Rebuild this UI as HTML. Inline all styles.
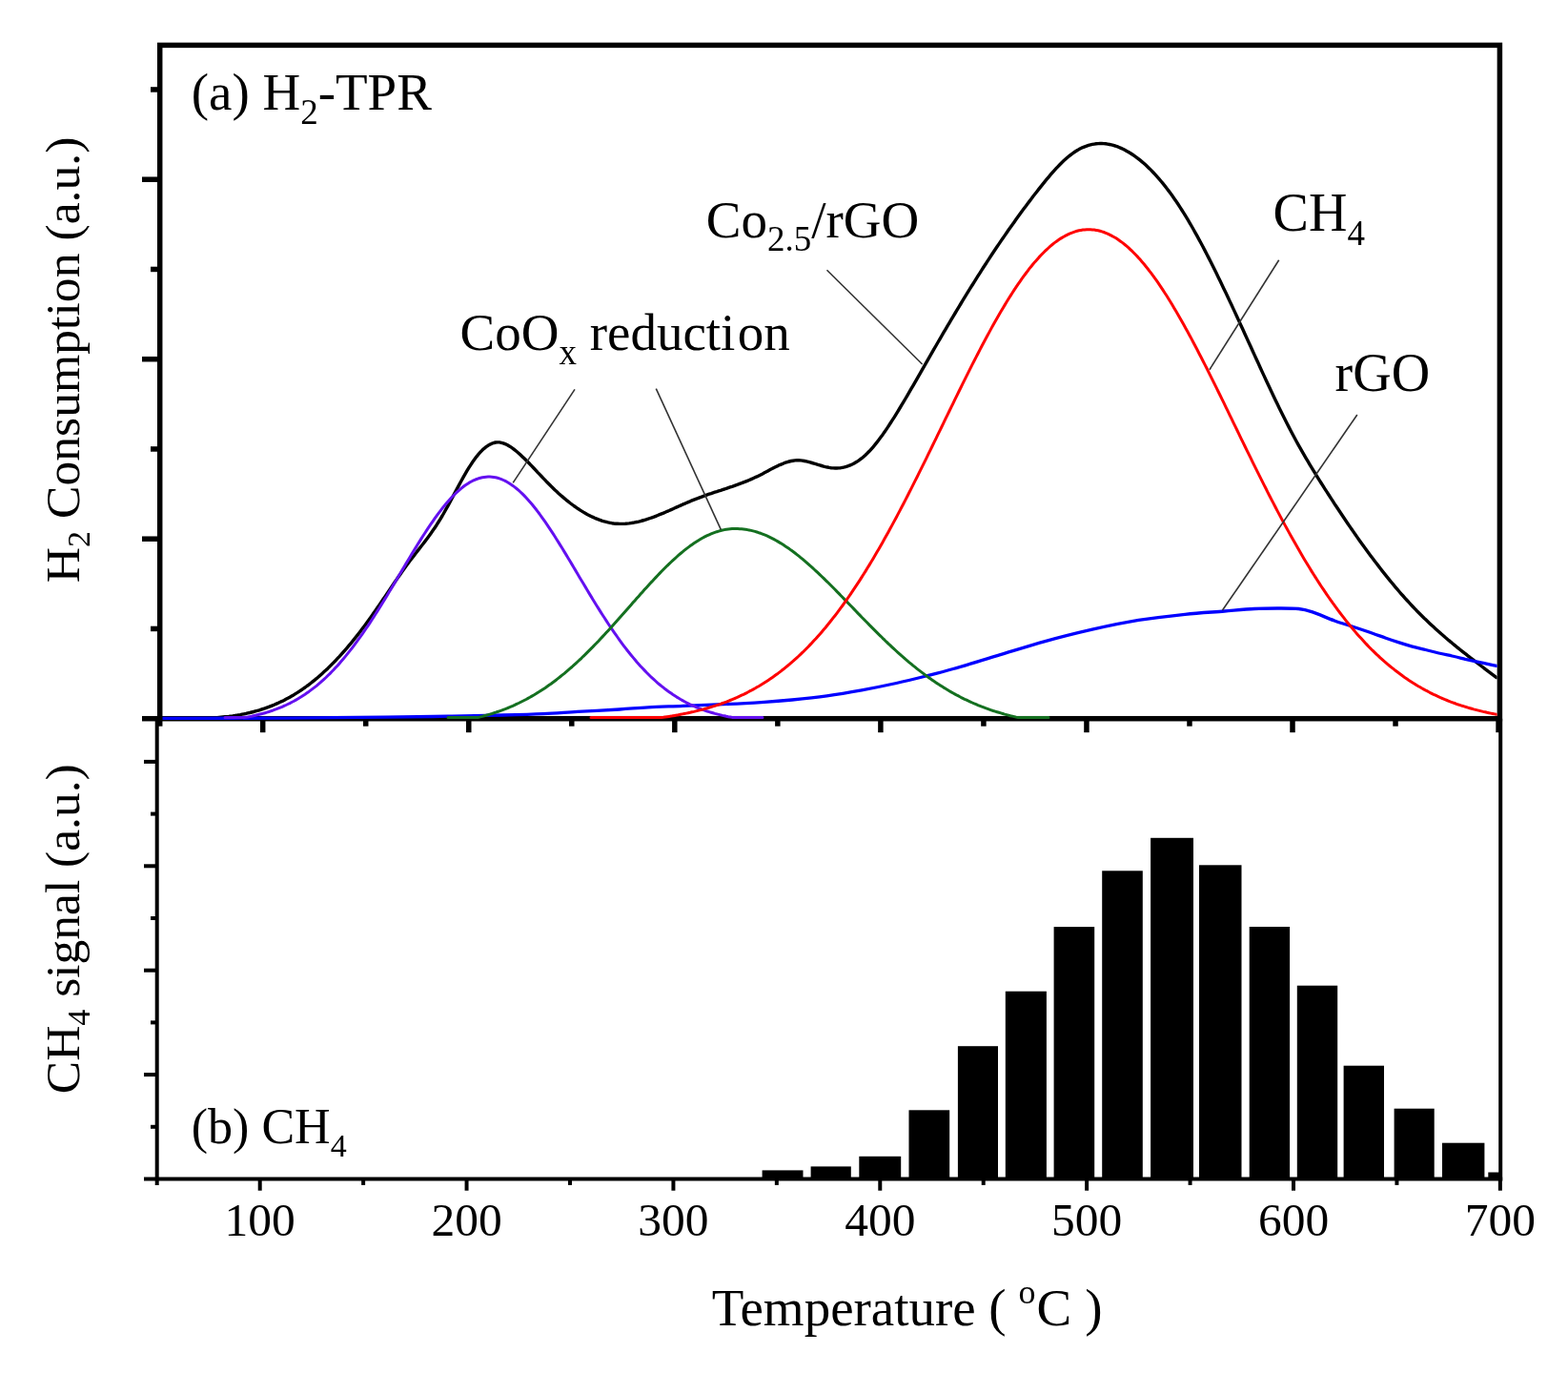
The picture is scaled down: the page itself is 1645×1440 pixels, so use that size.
<!DOCTYPE html>
<html><head><meta charset="utf-8"><title>H2-TPR</title>
<style>html,body{margin:0;padding:0;background:#fff;width:1645px;height:1440px;overflow:hidden}svg{display:block}</style>
</head><body>
<svg width="1645" height="1440" viewBox="0 0 1645 1440">
<rect width="100%" height="100%" fill="#fff"/>
<rect x="799.6" y="1227.4" width="42.9" height="9.1" fill="#000"/>
<rect x="850.6" y="1223.4" width="42.2" height="13.1" fill="#000"/>
<rect x="901.3" y="1212.8" width="43.9" height="23.7" fill="#000"/>
<rect x="953.5" y="1164.3" width="42.7" height="72.2" fill="#000"/>
<rect x="1004.9" y="1097.2" width="42.1" height="139.3" fill="#000"/>
<rect x="1054.8" y="1039.7" width="43.1" height="196.8" fill="#000"/>
<rect x="1105.6" y="972.1" width="42.6" height="264.4" fill="#000"/>
<rect x="1156.2" y="913.3" width="42.6" height="323.2" fill="#000"/>
<rect x="1207.1" y="878.8" width="44.9" height="357.7" fill="#000"/>
<rect x="1258.0" y="907.3" width="44.5" height="329.2" fill="#000"/>
<rect x="1310.7" y="972.0" width="42.4" height="264.5" fill="#000"/>
<rect x="1360.8" y="1033.7" width="42.4" height="202.8" fill="#000"/>
<rect x="1409.6" y="1117.7" width="42.4" height="118.8" fill="#000"/>
<rect x="1462.6" y="1162.7" width="42.1" height="73.8" fill="#000"/>
<rect x="1513.0" y="1198.7" width="44.4" height="37.8" fill="#000"/>
<rect x="1561.3" y="1229.5" width="12.7" height="7.0" fill="#000"/>
<line x1="164.70" y1="753.70" x2="164.70" y2="1242.90" stroke="#000" stroke-width="4.0" stroke-linecap="butt"/>
<line x1="1574.20" y1="753.70" x2="1574.20" y2="1238.50" stroke="#000" stroke-width="4.0" stroke-linecap="butt"/>
<line x1="151.00" y1="1236.50" x2="1576.20" y2="1236.50" stroke="#000" stroke-width="4.0" stroke-linecap="butt"/>
<line x1="158.00" y1="1181.80" x2="164.70" y2="1181.80" stroke="#000" stroke-width="4.0" stroke-linecap="butt"/>
<line x1="151.00" y1="1127.10" x2="164.70" y2="1127.10" stroke="#000" stroke-width="4.0" stroke-linecap="butt"/>
<line x1="158.00" y1="1072.40" x2="164.70" y2="1072.40" stroke="#000" stroke-width="4.0" stroke-linecap="butt"/>
<line x1="151.00" y1="1017.70" x2="164.70" y2="1017.70" stroke="#000" stroke-width="4.0" stroke-linecap="butt"/>
<line x1="158.00" y1="963.00" x2="164.70" y2="963.00" stroke="#000" stroke-width="4.0" stroke-linecap="butt"/>
<line x1="151.00" y1="908.30" x2="164.70" y2="908.30" stroke="#000" stroke-width="4.0" stroke-linecap="butt"/>
<line x1="158.00" y1="853.60" x2="164.70" y2="853.60" stroke="#000" stroke-width="4.0" stroke-linecap="butt"/>
<line x1="151.00" y1="798.90" x2="164.70" y2="798.90" stroke="#000" stroke-width="4.0" stroke-linecap="butt"/>
<line x1="272.70" y1="1236.50" x2="272.70" y2="1248.70" stroke="#000" stroke-width="4.0" stroke-linecap="butt"/>
<line x1="381.13" y1="1236.50" x2="381.13" y2="1242.90" stroke="#000" stroke-width="4.0" stroke-linecap="butt"/>
<line x1="489.56" y1="1236.50" x2="489.56" y2="1248.70" stroke="#000" stroke-width="4.0" stroke-linecap="butt"/>
<line x1="597.99" y1="1236.50" x2="597.99" y2="1242.90" stroke="#000" stroke-width="4.0" stroke-linecap="butt"/>
<line x1="706.42" y1="1236.50" x2="706.42" y2="1248.70" stroke="#000" stroke-width="4.0" stroke-linecap="butt"/>
<line x1="814.85" y1="1236.50" x2="814.85" y2="1242.90" stroke="#000" stroke-width="4.0" stroke-linecap="butt"/>
<line x1="923.28" y1="1236.50" x2="923.28" y2="1248.70" stroke="#000" stroke-width="4.0" stroke-linecap="butt"/>
<line x1="1031.71" y1="1236.50" x2="1031.71" y2="1242.90" stroke="#000" stroke-width="4.0" stroke-linecap="butt"/>
<line x1="1140.14" y1="1236.50" x2="1140.14" y2="1248.70" stroke="#000" stroke-width="4.0" stroke-linecap="butt"/>
<line x1="1248.57" y1="1236.50" x2="1248.57" y2="1242.90" stroke="#000" stroke-width="4.0" stroke-linecap="butt"/>
<line x1="1357.00" y1="1236.50" x2="1357.00" y2="1248.70" stroke="#000" stroke-width="4.0" stroke-linecap="butt"/>
<line x1="1465.43" y1="1236.50" x2="1465.43" y2="1242.90" stroke="#000" stroke-width="4.0" stroke-linecap="butt"/>
<line x1="1573.86" y1="1236.50" x2="1573.86" y2="1248.70" stroke="#000" stroke-width="4.0" stroke-linecap="butt"/>
<rect x="167.70" y="47.40" width="1405.70" height="706.30" fill="none" stroke="#000" stroke-width="5.5"/>
<line x1="149.00" y1="753.70" x2="167.70" y2="753.70" stroke="#000" stroke-width="5.5" stroke-linecap="butt"/>
<line x1="158.00" y1="659.45" x2="167.70" y2="659.45" stroke="#000" stroke-width="5.5" stroke-linecap="butt"/>
<line x1="149.00" y1="565.20" x2="167.70" y2="565.20" stroke="#000" stroke-width="5.5" stroke-linecap="butt"/>
<line x1="158.00" y1="470.95" x2="167.70" y2="470.95" stroke="#000" stroke-width="5.5" stroke-linecap="butt"/>
<line x1="149.00" y1="376.70" x2="167.70" y2="376.70" stroke="#000" stroke-width="5.5" stroke-linecap="butt"/>
<line x1="158.00" y1="282.45" x2="167.70" y2="282.45" stroke="#000" stroke-width="5.5" stroke-linecap="butt"/>
<line x1="149.00" y1="188.20" x2="167.70" y2="188.20" stroke="#000" stroke-width="5.5" stroke-linecap="butt"/>
<line x1="158.00" y1="93.95" x2="167.70" y2="93.95" stroke="#000" stroke-width="5.5" stroke-linecap="butt"/>
<line x1="275.70" y1="753.70" x2="275.70" y2="768.20" stroke="#000" stroke-width="5.5" stroke-linecap="butt"/>
<line x1="383.73" y1="753.70" x2="383.73" y2="761.70" stroke="#000" stroke-width="5.5" stroke-linecap="butt"/>
<line x1="491.76" y1="753.70" x2="491.76" y2="768.20" stroke="#000" stroke-width="5.5" stroke-linecap="butt"/>
<line x1="599.79" y1="753.70" x2="599.79" y2="761.70" stroke="#000" stroke-width="5.5" stroke-linecap="butt"/>
<line x1="707.82" y1="753.70" x2="707.82" y2="768.20" stroke="#000" stroke-width="5.5" stroke-linecap="butt"/>
<line x1="815.85" y1="753.70" x2="815.85" y2="761.70" stroke="#000" stroke-width="5.5" stroke-linecap="butt"/>
<line x1="923.88" y1="753.70" x2="923.88" y2="768.20" stroke="#000" stroke-width="5.5" stroke-linecap="butt"/>
<line x1="1031.91" y1="753.70" x2="1031.91" y2="761.70" stroke="#000" stroke-width="5.5" stroke-linecap="butt"/>
<line x1="1139.94" y1="753.70" x2="1139.94" y2="768.20" stroke="#000" stroke-width="5.5" stroke-linecap="butt"/>
<line x1="1247.97" y1="753.70" x2="1247.97" y2="761.70" stroke="#000" stroke-width="5.5" stroke-linecap="butt"/>
<line x1="1356.00" y1="753.70" x2="1356.00" y2="768.20" stroke="#000" stroke-width="5.5" stroke-linecap="butt"/>
<line x1="1464.03" y1="753.70" x2="1464.03" y2="761.70" stroke="#000" stroke-width="5.5" stroke-linecap="butt"/>
<line x1="1572.06" y1="753.70" x2="1572.06" y2="768.20" stroke="#000" stroke-width="5.5" stroke-linecap="butt"/>
<line x1="167.70" y1="753.70" x2="167.70" y2="761.70" stroke="#000" stroke-width="5.5" stroke-linecap="butt"/>
<defs><clipPath id="cp"><rect x="170.5" y="0" width="1400.1" height="760"/></clipPath></defs>
<g clip-path="url(#cp)" fill="none" stroke-linejoin="round" stroke-linecap="round">
<path d="M168.0,753.1 L170.0,753.1 L172.0,753.1 L174.0,753.2 L176.0,753.2 L178.0,753.2 L180.0,753.3 L182.0,753.3 L184.0,753.3 L186.0,753.4 L188.0,753.4 L190.0,753.4 L192.0,753.4 L194.0,753.4 L196.0,753.5 L198.0,753.5 L200.0,753.5 L202.0,753.5 L204.0,753.5 L206.0,753.4 L208.0,753.4 L210.0,753.4 L212.0,753.3 L214.0,753.3 L216.0,753.2 L218.0,753.1 L220.0,753.0 L222.0,752.9 L224.0,752.8 L226.0,752.7 L228.0,752.6 L230.0,752.4 L232.0,752.2 L234.0,752.0 L236.0,751.8 L238.0,751.6 L240.0,751.4 L242.0,751.1 L244.0,750.9 L246.0,750.6 L248.0,750.3 L250.0,749.9 L252.0,749.6 L254.0,749.2 L256.0,748.8 L258.0,748.4 L260.0,747.9 L262.0,747.5 L264.0,747.0 L266.0,746.5 L268.0,745.9 L270.0,745.4 L272.0,744.8 L274.0,744.1 L276.0,743.5 L278.0,742.8 L280.0,742.1 L282.0,741.4 L284.0,740.6 L286.0,739.8 L288.0,739.0 L290.0,738.1 L292.0,737.2 L294.0,736.3 L296.0,735.4 L298.0,734.4 L300.0,733.3 L302.0,732.3 L304.0,731.2 L306.0,730.0 L308.0,728.9 L310.0,727.6 L312.0,726.4 L314.0,725.1 L316.0,723.8 L318.0,722.4 L320.0,721.0 L322.0,719.5 L324.0,718.1 L326.0,716.5 L328.0,714.9 L330.0,713.3 L332.0,711.7 L334.0,710.0 L336.0,708.2 L338.0,706.4 L340.0,704.6 L342.0,702.8 L344.0,700.9 L346.0,698.9 L348.0,696.9 L350.0,694.9 L352.0,692.8 L354.0,690.7 L356.0,688.6 L358.0,686.4 L360.0,684.1 L362.0,681.9 L364.0,679.6 L366.0,677.2 L368.0,674.8 L370.0,672.4 L372.0,669.9 L374.0,667.4 L376.0,664.9 L378.0,662.3 L380.0,659.6 L382.0,657.0 L384.0,654.3 L386.0,651.5 L388.0,648.7 L390.0,645.9 L392.0,643.1 L394.0,640.2 L396.0,637.3 L398.0,634.4 L400.0,631.5 L402.0,628.5 L404.0,625.6 L406.0,622.6 L408.0,619.7 L410.0,616.7 L412.0,613.8 L414.0,610.8 L416.0,607.9 L418.0,605.0 L420.0,602.2 L422.0,599.3 L424.0,596.5 L426.0,593.8 L428.0,591.0 L430.0,588.3 L432.0,585.7 L434.0,583.1 L436.0,580.5 L438.0,577.9 L440.0,575.4 L442.0,572.8 L444.0,570.2 L446.0,567.6 L448.0,564.9 L450.0,562.2 L452.0,559.4 L454.0,556.6 L456.0,553.7 L458.0,550.7 L460.0,547.5 L462.0,544.3 L464.0,541.0 L466.0,537.5 L468.0,533.9 L470.0,530.3 L472.0,526.6 L474.0,522.9 L476.0,519.1 L478.0,515.3 L480.0,511.6 L482.0,507.9 L484.0,504.2 L486.0,500.6 L488.0,497.1 L490.0,493.7 L492.0,490.4 L494.0,487.3 L496.0,484.3 L498.0,481.5 L500.0,478.8 L502.0,476.4 L504.0,474.2 L506.0,472.1 L508.0,470.3 L510.0,468.7 L512.0,467.3 L514.0,466.1 L516.0,465.2 L518.0,464.5 L520.0,464.0 L522.0,463.9 L524.0,463.9 L526.0,464.3 L528.0,464.8 L530.0,465.6 L532.0,466.5 L534.0,467.7 L536.0,468.9 L538.0,470.3 L540.0,471.9 L542.0,473.5 L544.0,475.2 L546.0,477.0 L548.0,478.9 L550.0,480.8 L552.0,482.8 L554.0,484.8 L556.0,486.8 L558.0,488.9 L560.0,491.0 L562.0,493.1 L564.0,495.3 L566.0,497.4 L568.0,499.5 L570.0,501.6 L572.0,503.7 L574.0,505.8 L576.0,507.8 L578.0,509.8 L580.0,511.7 L582.0,513.7 L584.0,515.5 L586.0,517.4 L588.0,519.2 L590.0,520.9 L592.0,522.6 L594.0,524.3 L596.0,525.9 L598.0,527.5 L600.0,529.0 L602.0,530.5 L604.0,531.9 L606.0,533.3 L608.0,534.6 L610.0,535.9 L612.0,537.1 L614.0,538.3 L616.0,539.4 L618.0,540.4 L620.0,541.5 L622.0,542.4 L624.0,543.3 L626.0,544.1 L628.0,544.9 L630.0,545.6 L632.0,546.3 L634.0,546.9 L636.0,547.4 L638.0,547.9 L640.0,548.3 L642.0,548.7 L644.0,549.0 L646.0,549.2 L648.0,549.3 L650.0,549.4 L652.0,549.4 L654.0,549.4 L656.0,549.3 L658.0,549.1 L660.0,548.9 L662.0,548.6 L664.0,548.3 L666.0,547.9 L668.0,547.5 L670.0,547.1 L672.0,546.6 L674.0,546.0 L676.0,545.5 L678.0,544.8 L680.0,544.2 L682.0,543.5 L684.0,542.8 L686.0,542.1 L688.0,541.3 L690.0,540.5 L692.0,539.7 L694.0,538.9 L696.0,538.1 L698.0,537.2 L700.0,536.3 L702.0,535.5 L704.0,534.6 L706.0,533.7 L708.0,532.8 L710.0,531.9 L712.0,531.0 L714.0,530.1 L716.0,529.2 L718.0,528.4 L720.0,527.5 L722.0,526.6 L724.0,525.8 L726.0,524.9 L728.0,524.1 L730.0,523.3 L732.0,522.6 L734.0,521.8 L736.0,521.1 L738.0,520.3 L740.0,519.6 L742.0,518.9 L744.0,518.2 L746.0,517.6 L748.0,516.9 L750.0,516.2 L752.0,515.6 L754.0,514.9 L756.0,514.3 L758.0,513.6 L760.0,513.0 L762.0,512.3 L764.0,511.6 L766.0,510.9 L768.0,510.3 L770.0,509.6 L772.0,508.9 L774.0,508.2 L776.0,507.4 L778.0,506.7 L780.0,505.9 L782.0,505.1 L784.0,504.3 L786.0,503.5 L788.0,502.6 L790.0,501.7 L792.0,500.8 L794.0,499.9 L796.0,498.9 L798.0,497.9 L800.0,496.9 L802.0,495.8 L804.0,494.8 L806.0,493.7 L808.0,492.6 L810.0,491.6 L812.0,490.5 L814.0,489.5 L816.0,488.6 L818.0,487.6 L820.0,486.8 L822.0,486.0 L824.0,485.2 L826.0,484.6 L828.0,484.0 L830.0,483.5 L832.0,483.2 L834.0,482.9 L836.0,482.8 L838.0,482.8 L840.0,482.9 L842.0,483.1 L844.0,483.5 L846.0,483.9 L848.0,484.3 L850.0,484.9 L852.0,485.5 L854.0,486.1 L856.0,486.7 L858.0,487.3 L860.0,487.9 L862.0,488.5 L864.0,489.1 L866.0,489.6 L868.0,490.0 L870.0,490.4 L872.0,490.7 L874.0,490.9 L876.0,491.0 L878.0,491.0 L880.0,490.9 L882.0,490.7 L884.0,490.3 L886.0,489.9 L888.0,489.3 L890.0,488.7 L892.0,487.9 L894.0,487.0 L896.0,486.0 L898.0,484.8 L900.0,483.6 L902.0,482.2 L904.0,480.7 L906.0,479.0 L908.0,477.2 L910.0,475.3 L912.0,473.3 L914.0,471.1 L916.0,468.8 L918.0,466.4 L920.0,463.9 L922.0,461.3 L924.0,458.6 L926.0,455.9 L928.0,453.0 L930.0,450.1 L932.0,447.1 L934.0,444.0 L936.0,440.9 L938.0,437.8 L940.0,434.6 L942.0,431.3 L944.0,428.0 L946.0,424.7 L948.0,421.4 L950.0,418.0 L952.0,414.6 L954.0,411.2 L956.0,407.7 L958.0,404.3 L960.0,400.8 L962.0,397.3 L964.0,393.8 L966.0,390.3 L968.0,386.8 L970.0,383.3 L972.0,379.8 L974.0,376.3 L976.0,372.9 L978.0,369.4 L980.0,365.9 L982.0,362.5 L984.0,359.0 L986.0,355.6 L988.0,352.2 L990.0,348.7 L992.0,345.3 L994.0,341.9 L996.0,338.6 L998.0,335.2 L1000.0,331.8 L1002.0,328.5 L1004.0,325.1 L1006.0,321.8 L1008.0,318.5 L1010.0,315.2 L1012.0,311.9 L1014.0,308.7 L1016.0,305.4 L1018.0,302.2 L1020.0,299.0 L1022.0,295.8 L1024.0,292.6 L1026.0,289.4 L1028.0,286.3 L1030.0,283.2 L1032.0,280.0 L1034.0,277.0 L1036.0,273.9 L1038.0,270.8 L1040.0,267.8 L1042.0,264.8 L1044.0,261.8 L1046.0,258.8 L1048.0,255.9 L1050.0,252.9 L1052.0,250.0 L1054.0,247.1 L1056.0,244.2 L1058.0,241.3 L1060.0,238.5 L1062.0,235.7 L1064.0,232.9 L1066.0,230.1 L1068.0,227.3 L1070.0,224.5 L1072.0,221.8 L1074.0,219.1 L1076.0,216.4 L1078.0,213.7 L1080.0,211.1 L1082.0,208.5 L1084.0,205.8 L1086.0,203.3 L1088.0,200.7 L1090.0,198.1 L1092.0,195.6 L1094.0,193.1 L1096.0,190.6 L1098.0,188.2 L1100.0,185.8 L1102.0,183.4 L1104.0,181.1 L1106.0,178.9 L1108.0,176.7 L1110.0,174.6 L1112.0,172.5 L1114.0,170.5 L1116.0,168.6 L1118.0,166.8 L1120.0,165.0 L1122.0,163.4 L1124.0,161.8 L1126.0,160.4 L1128.0,159.0 L1130.0,157.8 L1132.0,156.6 L1134.0,155.6 L1136.0,154.6 L1138.0,153.8 L1140.0,153.1 L1142.0,152.4 L1144.0,151.9 L1146.0,151.4 L1148.0,151.1 L1150.0,150.8 L1152.0,150.6 L1154.0,150.5 L1156.0,150.5 L1158.0,150.6 L1160.0,150.8 L1162.0,151.1 L1164.0,151.5 L1166.0,151.9 L1168.0,152.4 L1170.0,153.0 L1172.0,153.7 L1174.0,154.5 L1176.0,155.4 L1178.0,156.3 L1180.0,157.3 L1182.0,158.4 L1184.0,159.5 L1186.0,160.7 L1188.0,162.0 L1190.0,163.4 L1192.0,164.8 L1194.0,166.3 L1196.0,167.9 L1198.0,169.6 L1200.0,171.3 L1202.0,173.1 L1204.0,175.0 L1206.0,176.9 L1208.0,178.9 L1210.0,181.0 L1212.0,183.1 L1214.0,185.3 L1216.0,187.6 L1218.0,190.0 L1220.0,192.4 L1222.0,194.9 L1224.0,197.5 L1226.0,200.1 L1228.0,202.8 L1230.0,205.6 L1232.0,208.4 L1234.0,211.3 L1236.0,214.3 L1238.0,217.4 L1240.0,220.5 L1242.0,223.6 L1244.0,226.9 L1246.0,230.2 L1248.0,233.6 L1250.0,237.0 L1252.0,240.5 L1254.0,244.1 L1256.0,247.7 L1258.0,251.3 L1260.0,255.0 L1262.0,258.8 L1264.0,262.6 L1266.0,266.5 L1268.0,270.4 L1270.0,274.3 L1272.0,278.3 L1274.0,282.3 L1276.0,286.3 L1278.0,290.4 L1280.0,294.6 L1282.0,298.7 L1284.0,302.9 L1286.0,307.1 L1288.0,311.3 L1290.0,315.6 L1292.0,319.8 L1294.0,324.1 L1296.0,328.4 L1298.0,332.8 L1300.0,337.1 L1302.0,341.5 L1304.0,345.8 L1306.0,350.2 L1308.0,354.6 L1310.0,359.0 L1312.0,363.3 L1314.0,367.7 L1316.0,372.1 L1318.0,376.5 L1320.0,380.8 L1322.0,385.2 L1324.0,389.6 L1326.0,393.9 L1328.0,398.2 L1330.0,402.5 L1332.0,406.8 L1334.0,411.0 L1336.0,415.2 L1338.0,419.4 L1340.0,423.6 L1342.0,427.7 L1344.0,431.8 L1346.0,435.8 L1348.0,439.8 L1350.0,443.8 L1352.0,447.6 L1354.0,451.5 L1356.0,455.3 L1358.0,459.0 L1360.0,462.7 L1362.0,466.3 L1364.0,469.9 L1366.0,473.4 L1368.0,476.9 L1370.0,480.3 L1372.0,483.7 L1374.0,487.1 L1376.0,490.4 L1378.0,493.7 L1380.0,496.9 L1382.0,500.2 L1384.0,503.4 L1386.0,506.5 L1388.0,509.7 L1390.0,512.8 L1392.0,515.9 L1394.0,519.0 L1396.0,522.1 L1398.0,525.2 L1400.0,528.3 L1402.0,531.3 L1404.0,534.3 L1406.0,537.3 L1408.0,540.3 L1410.0,543.3 L1412.0,546.2 L1414.0,549.2 L1416.0,552.1 L1418.0,555.0 L1420.0,557.9 L1422.0,560.7 L1424.0,563.6 L1426.0,566.4 L1428.0,569.2 L1430.0,572.0 L1432.0,574.7 L1434.0,577.5 L1436.0,580.2 L1438.0,582.9 L1440.0,585.5 L1442.0,588.2 L1444.0,590.8 L1446.0,593.4 L1448.0,596.0 L1450.0,598.6 L1452.0,601.1 L1454.0,603.6 L1456.0,606.1 L1458.0,608.6 L1460.0,611.0 L1462.0,613.4 L1464.0,615.8 L1466.0,618.1 L1468.0,620.5 L1470.0,622.8 L1472.0,625.0 L1474.0,627.3 L1476.0,629.5 L1478.0,631.7 L1480.0,633.8 L1482.0,636.0 L1484.0,638.1 L1486.0,640.2 L1488.0,642.2 L1490.0,644.2 L1492.0,646.2 L1494.0,648.2 L1496.0,650.1 L1498.0,652.0 L1500.0,653.9 L1502.0,655.8 L1504.0,657.6 L1506.0,659.4 L1508.0,661.2 L1510.0,663.0 L1512.0,664.8 L1514.0,666.5 L1516.0,668.3 L1518.0,670.0 L1520.0,671.7 L1522.0,673.3 L1524.0,675.0 L1526.0,676.6 L1528.0,678.3 L1530.0,679.9 L1532.0,681.5 L1534.0,683.1 L1536.0,684.7 L1538.0,686.2 L1540.0,687.8 L1542.0,689.4 L1544.0,690.9 L1546.0,692.4 L1548.0,694.0 L1550.0,695.5 L1552.0,697.0 L1554.0,698.5 L1556.0,700.0 L1558.0,701.6 L1560.0,703.1 L1562.0,704.6 L1564.0,706.1 L1566.0,707.6 L1568.0,709.1 L1570.0,710.6" stroke="#000" stroke-width="3.4"/>
<path d="M168.0,753.3 C190.0,753.3 260.5,753.3 300.0,753.1 C339.5,752.9 376.7,752.5 405.0,752.2 C433.3,751.9 449.5,751.6 470.0,751.2 C490.5,750.8 511.3,750.4 528.0,750.0 C544.7,749.6 557.0,749.3 570.0,748.7 C583.0,748.1 592.7,747.2 606.0,746.4 C619.3,745.6 637.7,744.8 650.0,744.0 C662.3,743.2 668.9,742.4 680.0,741.8 C691.1,741.2 702.5,740.9 716.7,740.3 C730.9,739.7 751.1,739.0 765.3,738.4 C779.5,737.8 790.8,737.1 801.8,736.4 C812.8,735.7 820.0,735.1 831.0,734.0 C842.0,732.9 855.3,731.5 867.5,729.8 C879.7,728.1 891.9,726.0 904.0,723.8 C916.1,721.6 929.5,718.9 940.4,716.5 C951.3,714.1 959.7,712.0 969.6,709.5 C979.5,707.0 986.8,705.3 1000.0,701.5 C1013.2,697.7 1032.4,691.8 1048.6,686.9 C1064.8,682.0 1081.1,676.8 1097.3,672.3 C1113.5,667.8 1129.7,663.8 1145.9,660.1 C1162.1,656.5 1178.3,653.0 1194.5,650.4 C1210.7,647.8 1228.2,645.9 1243.2,644.3 C1258.2,642.7 1272.4,642.0 1284.5,641.0 C1296.6,640.0 1306.8,639.0 1316.0,638.5 C1325.2,638.0 1332.3,638.0 1340.0,638.0 C1347.7,638.0 1356.1,637.9 1362.3,638.5 C1368.5,639.1 1370.6,639.8 1376.9,641.9 C1383.2,644.0 1392.8,648.4 1400.0,651.0 C1407.2,653.6 1413.3,655.3 1420.0,657.5 C1426.7,659.7 1434.3,662.2 1440.0,664.2 C1445.7,666.2 1449.3,667.6 1453.9,669.2 C1458.5,670.8 1463.2,672.4 1467.8,673.9 C1472.4,675.4 1477.1,676.8 1481.7,678.1 C1486.3,679.4 1491.0,680.4 1495.6,681.5 C1500.2,682.6 1504.8,683.9 1509.4,685.0 C1514.0,686.1 1518.7,687.0 1523.3,688.0 C1527.9,689.0 1532.6,690.2 1537.2,691.3 C1541.8,692.3 1546.5,693.3 1551.1,694.3 C1555.7,695.3 1561.7,696.6 1565.0,697.3 C1568.3,698.0 1570.0,698.3 1571.0,698.5" stroke="#0000ff" stroke-width="3.3"/>
<path d="M236.0,752.6 L238.0,752.6 L240.0,752.6 L242.0,752.6 L244.0,752.6 L246.0,752.6 L248.0,752.6 L250.0,752.6 L252.0,752.6 L254.0,752.6 L256.0,752.6 L258.0,752.3 L260.0,752.0 L262.0,751.6 L264.0,751.2 L266.0,750.7 L268.0,750.3 L270.0,749.8 L272.0,749.3 L274.0,748.8 L276.0,748.3 L278.0,747.7 L280.0,747.1 L282.0,746.5 L284.0,745.8 L286.0,745.2 L288.0,744.4 L290.0,743.7 L292.0,742.9 L294.0,742.1 L296.0,741.3 L298.0,740.4 L300.0,739.5 L302.0,738.5 L304.0,737.6 L306.0,736.5 L308.0,735.5 L310.0,734.4 L312.0,733.2 L314.0,732.0 L316.0,730.8 L318.0,729.5 L320.0,728.2 L322.0,726.8 L324.0,725.4 L326.0,723.9 L328.0,722.4 L330.0,720.9 L332.0,719.3 L334.0,717.6 L336.0,715.9 L338.0,714.1 L340.0,712.3 L342.0,710.5 L344.0,708.5 L346.0,706.6 L348.0,704.5 L350.0,702.5 L352.0,700.3 L354.0,698.2 L356.0,695.9 L358.0,693.6 L360.0,691.3 L362.0,688.9 L364.0,686.4 L366.0,683.9 L368.0,681.4 L370.0,678.8 L372.0,676.1 L374.0,673.4 L376.0,670.7 L378.0,667.9 L380.0,665.1 L382.0,662.2 L384.0,659.2 L386.0,656.3 L388.0,653.3 L390.0,650.2 L392.0,647.1 L394.0,644.0 L396.0,640.9 L398.0,637.7 L400.0,634.4 L402.0,631.2 L404.0,627.9 L406.0,624.7 L408.0,621.3 L410.0,618.0 L412.0,614.7 L414.0,611.3 L416.0,608.0 L418.0,604.6 L420.0,601.2 L422.0,597.9 L424.0,594.5 L426.0,591.1 L428.0,587.8 L430.0,584.5 L432.0,581.1 L434.0,577.9 L436.0,574.6 L438.0,571.3 L440.0,568.1 L442.0,564.9 L444.0,561.8 L446.0,558.7 L448.0,555.6 L450.0,552.6 L452.0,549.7 L454.0,546.8 L456.0,543.9 L458.0,541.1 L460.0,538.4 L462.0,535.8 L464.0,533.2 L466.0,530.7 L468.0,528.3 L470.0,526.0 L472.0,523.7 L474.0,521.5 L476.0,519.5 L478.0,517.5 L480.0,515.6 L482.0,513.8 L484.0,512.1 L486.0,510.5 L488.0,509.0 L490.0,507.7 L492.0,506.4 L494.0,505.3 L496.0,504.2 L498.0,503.3 L500.0,502.5 L502.0,501.8 L504.0,501.2 L506.0,500.7 L508.0,500.4 L510.0,500.2 L512.0,500.1 L514.0,500.1 L516.0,500.2 L518.0,500.5 L520.0,500.8 L522.0,501.3 L524.0,501.9 L526.0,502.6 L528.0,503.5 L530.0,504.4 L532.0,505.5 L534.0,506.7 L536.0,508.0 L538.0,509.4 L540.0,510.9 L542.0,512.5 L544.0,514.2 L546.0,516.0 L548.0,517.9 L550.0,519.9 L552.0,522.0 L554.0,524.2 L556.0,526.5 L558.0,528.8 L560.0,531.3 L562.0,533.8 L564.0,536.4 L566.0,539.0 L568.0,541.8 L570.0,544.6 L572.0,547.4 L574.0,550.3 L576.0,553.3 L578.0,556.3 L580.0,559.4 L582.0,562.5 L584.0,565.7 L586.0,568.9 L588.0,572.1 L590.0,575.3 L592.0,578.6 L594.0,581.9 L596.0,585.2 L598.0,588.6 L600.0,591.9 L602.0,595.3 L604.0,598.6 L606.0,602.0 L608.0,605.4 L610.0,608.7 L612.0,612.1 L614.0,615.4 L616.0,618.8 L618.0,622.1 L620.0,625.4 L622.0,628.7 L624.0,632.0 L626.0,635.2 L628.0,638.4 L630.0,641.6 L632.0,644.7 L634.0,647.8 L636.0,650.9 L638.0,654.0 L640.0,657.0 L642.0,659.9 L644.0,662.8 L646.0,665.7 L648.0,668.5 L650.0,671.3 L652.0,674.1 L654.0,676.8 L656.0,679.4 L658.0,682.0 L660.0,684.5 L662.0,687.0 L664.0,689.4 L666.0,691.8 L668.0,694.2 L670.0,696.4 L672.0,698.7 L674.0,700.8 L676.0,702.9 L678.0,705.0 L680.0,707.0 L682.0,709.0 L684.0,710.9 L686.0,712.7 L688.0,714.5 L690.0,716.3 L692.0,718.0 L694.0,719.6 L696.0,721.2 L698.0,722.8 L700.0,724.3 L702.0,725.7 L704.0,727.1 L706.0,728.5 L708.0,729.8 L710.0,731.1 L712.0,732.3 L714.0,733.5 L716.0,734.6 L718.0,735.7 L720.0,736.8 L722.0,737.8 L724.0,738.8 L726.0,739.7 L728.0,740.6 L730.0,741.5 L732.0,742.3 L734.0,743.1 L736.0,743.9 L738.0,744.6 L740.0,745.3 L742.0,746.0 L744.0,746.6 L746.0,747.2 L748.0,747.8 L750.0,748.4 L752.0,748.9 L754.0,749.4 L756.0,749.9 L758.0,750.4 L760.0,750.8 L762.0,751.3 L764.0,751.7 L766.0,752.0 L768.0,752.4 L770.0,752.6 L772.0,752.6 L774.0,752.6 L776.0,752.6 L778.0,752.6 L780.0,752.6 L782.0,752.6 L784.0,752.6 L786.0,752.6 L788.0,752.6 L790.0,752.6 L792.0,752.6 L794.0,752.6 L796.0,752.6 L798.0,752.6 L800.0,752.6" stroke="#6410f0" stroke-width="3"/>
<path d="M470.0,752.6 L472.0,752.6 L474.0,752.6 L476.0,752.6 L478.0,752.6 L480.0,752.6 L482.0,752.6 L484.0,752.6 L486.0,752.6 L488.0,752.6 L490.0,752.6 L492.0,752.6 L494.0,752.6 L496.0,752.6 L498.0,752.6 L500.0,752.6 L502.0,752.4 L504.0,751.9 L506.0,751.4 L508.0,750.8 L510.0,750.3 L512.0,749.7 L514.0,749.1 L516.0,748.5 L518.0,747.8 L520.0,747.2 L522.0,746.5 L524.0,745.8 L526.0,745.1 L528.0,744.3 L530.0,743.6 L532.0,742.8 L534.0,742.0 L536.0,741.1 L538.0,740.3 L540.0,739.4 L542.0,738.4 L544.0,737.5 L546.0,736.5 L548.0,735.5 L550.0,734.5 L552.0,733.5 L554.0,732.4 L556.0,731.3 L558.0,730.1 L560.0,729.0 L562.0,727.8 L564.0,726.5 L566.0,725.3 L568.0,724.0 L570.0,722.7 L572.0,721.4 L574.0,720.0 L576.0,718.6 L578.0,717.2 L580.0,715.7 L582.0,714.2 L584.0,712.7 L586.0,711.1 L588.0,709.5 L590.0,707.9 L592.0,706.3 L594.0,704.6 L596.0,702.9 L598.0,701.2 L600.0,699.5 L602.0,697.7 L604.0,695.9 L606.0,694.0 L608.0,692.2 L610.0,690.3 L612.0,688.3 L614.0,686.4 L616.0,684.4 L618.0,682.4 L620.0,680.4 L622.0,678.4 L624.0,676.3 L626.0,674.3 L628.0,672.2 L630.0,670.0 L632.0,667.9 L634.0,665.8 L636.0,663.6 L638.0,661.4 L640.0,659.2 L642.0,657.0 L644.0,654.8 L646.0,652.5 L648.0,650.3 L650.0,648.0 L652.0,645.8 L654.0,643.5 L656.0,641.2 L658.0,639.0 L660.0,636.7 L662.0,634.4 L664.0,632.1 L666.0,629.9 L668.0,627.6 L670.0,625.4 L672.0,623.1 L674.0,620.9 L676.0,618.6 L678.0,616.4 L680.0,614.2 L682.0,612.0 L684.0,609.9 L686.0,607.7 L688.0,605.6 L690.0,603.5 L692.0,601.4 L694.0,599.3 L696.0,597.3 L698.0,595.3 L700.0,593.3 L702.0,591.4 L704.0,589.5 L706.0,587.6 L708.0,585.8 L710.0,584.0 L712.0,582.2 L714.0,580.5 L716.0,578.8 L718.0,577.2 L720.0,575.6 L722.0,574.1 L724.0,572.6 L726.0,571.2 L728.0,569.8 L730.0,568.5 L732.0,567.2 L734.0,566.0 L736.0,564.8 L738.0,563.7 L740.0,562.7 L742.0,561.7 L744.0,560.8 L746.0,559.9 L748.0,559.1 L750.0,558.4 L752.0,557.7 L754.0,557.1 L756.0,556.5 L758.0,556.0 L760.0,555.6 L762.0,555.3 L764.0,555.0 L766.0,554.8 L768.0,554.6 L770.0,554.5 L772.0,554.5 L774.0,554.6 L776.0,554.7 L778.0,554.8 L780.0,555.0 L782.0,555.3 L784.0,555.6 L786.0,556.0 L788.0,556.4 L790.0,556.9 L792.0,557.4 L794.0,558.0 L796.0,558.7 L798.0,559.3 L800.0,560.1 L802.0,560.9 L804.0,561.7 L806.0,562.6 L808.0,563.6 L810.0,564.6 L812.0,565.6 L814.0,566.7 L816.0,567.9 L818.0,569.1 L820.0,570.3 L822.0,571.6 L824.0,572.9 L826.0,574.2 L828.0,575.6 L830.0,577.1 L832.0,578.5 L834.0,580.0 L836.0,581.6 L838.0,583.2 L840.0,584.8 L842.0,586.4 L844.0,588.1 L846.0,589.8 L848.0,591.6 L850.0,593.4 L852.0,595.1 L854.0,597.0 L856.0,598.8 L858.0,600.7 L860.0,602.6 L862.0,604.5 L864.0,606.4 L866.0,608.4 L868.0,610.3 L870.0,612.3 L872.0,614.3 L874.0,616.3 L876.0,618.3 L878.0,620.4 L880.0,622.4 L882.0,624.5 L884.0,626.5 L886.0,628.6 L888.0,630.6 L890.0,632.7 L892.0,634.8 L894.0,636.8 L896.0,638.9 L898.0,641.0 L900.0,643.1 L902.0,645.1 L904.0,647.2 L906.0,649.2 L908.0,651.3 L910.0,653.3 L912.0,655.4 L914.0,657.4 L916.0,659.4 L918.0,661.4 L920.0,663.4 L922.0,665.4 L924.0,667.3 L926.0,669.3 L928.0,671.2 L930.0,673.2 L932.0,675.1 L934.0,676.9 L936.0,678.8 L938.0,680.7 L940.0,682.5 L942.0,684.3 L944.0,686.1 L946.0,687.9 L948.0,689.6 L950.0,691.4 L952.0,693.1 L954.0,694.8 L956.0,696.4 L958.0,698.1 L960.0,699.7 L962.0,701.3 L964.0,702.9 L966.0,704.4 L968.0,705.9 L970.0,707.4 L972.0,708.9 L974.0,710.4 L976.0,711.8 L978.0,713.2 L980.0,714.6 L982.0,715.9 L984.0,717.3 L986.0,718.6 L988.0,719.8 L990.0,721.1 L992.0,722.3 L994.0,723.5 L996.0,724.7 L998.0,725.9 L1000.0,727.0 L1002.0,728.1 L1004.0,729.2 L1006.0,730.2 L1008.0,731.3 L1010.0,732.3 L1012.0,733.3 L1014.0,734.2 L1016.0,735.2 L1018.0,736.1 L1020.0,737.0 L1022.0,737.9 L1024.0,738.7 L1026.0,739.6 L1028.0,740.4 L1030.0,741.2 L1032.0,741.9 L1034.0,742.7 L1036.0,743.4 L1038.0,744.1 L1040.0,744.8 L1042.0,745.5 L1044.0,746.1 L1046.0,746.7 L1048.0,747.3 L1050.0,747.9 L1052.0,748.5 L1054.0,749.1 L1056.0,749.6 L1058.0,750.1 L1060.0,750.7 L1062.0,751.1 L1064.0,751.6 L1066.0,752.1 L1068.0,752.5 L1070.0,752.6 L1072.0,752.6 L1074.0,752.6 L1076.0,752.6 L1078.0,752.6 L1080.0,752.6 L1082.0,752.6 L1084.0,752.6 L1086.0,752.6 L1088.0,752.6 L1090.0,752.6 L1092.0,752.6 L1094.0,752.6 L1096.0,752.6 L1098.0,752.6 L1100.0,752.6" stroke="#147020" stroke-width="3"/>
<path d="M620.0,752.6 L622.0,752.6 L624.0,752.6 L626.0,752.6 L628.0,752.6 L630.0,752.6 L632.0,752.6 L634.0,752.6 L636.0,752.6 L638.0,752.6 L640.0,752.6 L642.0,752.6 L644.0,752.6 L646.0,752.6 L648.0,752.6 L650.0,752.6 L652.0,752.6 L654.0,752.6 L656.0,752.6 L658.0,752.6 L660.0,752.6 L662.0,752.6 L664.0,752.6 L666.0,752.6 L668.0,752.6 L670.0,752.6 L672.0,752.6 L674.0,752.6 L676.0,752.6 L678.0,752.6 L680.0,752.6 L682.0,752.6 L684.0,752.6 L686.0,752.6 L688.0,752.6 L690.0,752.6 L692.0,752.6 L694.0,752.5 L696.0,752.3 L698.0,752.0 L700.0,751.7 L702.0,751.4 L704.0,751.1 L706.0,750.7 L708.0,750.4 L710.0,750.1 L712.0,749.7 L714.0,749.3 L716.0,748.9 L718.0,748.5 L720.0,748.1 L722.0,747.7 L724.0,747.3 L726.0,746.8 L728.0,746.4 L730.0,745.9 L732.0,745.4 L734.0,744.9 L736.0,744.4 L738.0,743.9 L740.0,743.3 L742.0,742.7 L744.0,742.2 L746.0,741.5 L748.0,740.9 L750.0,740.3 L752.0,739.6 L754.0,739.0 L756.0,738.3 L758.0,737.5 L760.0,736.8 L762.0,736.1 L764.0,735.3 L766.0,734.5 L768.0,733.7 L770.0,732.8 L772.0,732.0 L774.0,731.1 L776.0,730.2 L778.0,729.2 L780.0,728.3 L782.0,727.3 L784.0,726.3 L786.0,725.2 L788.0,724.2 L790.0,723.1 L792.0,722.0 L794.0,720.8 L796.0,719.7 L798.0,718.5 L800.0,717.3 L802.0,716.0 L804.0,714.7 L806.0,713.4 L808.0,712.1 L810.0,710.7 L812.0,709.3 L814.0,707.8 L816.0,706.4 L818.0,704.9 L820.0,703.3 L822.0,701.8 L824.0,700.1 L826.0,698.5 L828.0,696.8 L830.0,695.1 L832.0,693.4 L834.0,691.6 L836.0,689.8 L838.0,688.0 L840.0,686.1 L842.0,684.2 L844.0,682.2 L846.0,680.2 L848.0,678.2 L850.0,676.1 L852.0,674.0 L854.0,671.8 L856.0,669.7 L858.0,667.4 L860.0,665.2 L862.0,662.9 L864.0,660.5 L866.0,658.2 L868.0,655.7 L870.0,653.3 L872.0,650.8 L874.0,648.2 L876.0,645.7 L878.0,643.1 L880.0,640.4 L882.0,637.7 L884.0,635.0 L886.0,632.2 L888.0,629.4 L890.0,626.5 L892.0,623.6 L894.0,620.7 L896.0,617.7 L898.0,614.7 L900.0,611.7 L902.0,608.6 L904.0,605.4 L906.0,602.3 L908.0,599.1 L910.0,595.8 L912.0,592.6 L914.0,589.3 L916.0,585.9 L918.0,582.5 L920.0,579.1 L922.0,575.7 L924.0,572.2 L926.0,568.7 L928.0,565.1 L930.0,561.5 L932.0,557.9 L934.0,554.3 L936.0,550.6 L938.0,546.9 L940.0,543.2 L942.0,539.4 L944.0,535.6 L946.0,531.8 L948.0,528.0 L950.0,524.1 L952.0,520.2 L954.0,516.3 L956.0,512.4 L958.0,508.4 L960.0,504.4 L962.0,500.5 L964.0,496.4 L966.0,492.4 L968.0,488.4 L970.0,484.3 L972.0,480.3 L974.0,476.2 L976.0,472.1 L978.0,468.0 L980.0,463.9 L982.0,459.8 L984.0,455.7 L986.0,451.6 L988.0,447.5 L990.0,443.3 L992.0,439.2 L994.0,435.1 L996.0,431.0 L998.0,426.9 L1000.0,422.8 L1002.0,418.7 L1004.0,414.6 L1006.0,410.5 L1008.0,406.5 L1010.0,402.4 L1012.0,398.4 L1014.0,394.4 L1016.0,390.4 L1018.0,386.4 L1020.0,382.4 L1022.0,378.5 L1024.0,374.6 L1026.0,370.7 L1028.0,366.9 L1030.0,363.0 L1032.0,359.2 L1034.0,355.5 L1036.0,351.8 L1038.0,348.1 L1040.0,344.4 L1042.0,340.8 L1044.0,337.2 L1046.0,333.7 L1048.0,330.2 L1050.0,326.8 L1052.0,323.4 L1054.0,320.1 L1056.0,316.8 L1058.0,313.5 L1060.0,310.4 L1062.0,307.2 L1064.0,304.1 L1066.0,301.1 L1068.0,298.2 L1070.0,295.3 L1072.0,292.4 L1074.0,289.7 L1076.0,287.0 L1078.0,284.3 L1080.0,281.7 L1082.0,279.2 L1084.0,276.8 L1086.0,274.4 L1088.0,272.2 L1090.0,269.9 L1092.0,267.8 L1094.0,265.7 L1096.0,263.7 L1098.0,261.8 L1100.0,260.0 L1102.0,258.2 L1104.0,256.5 L1106.0,254.9 L1108.0,253.4 L1110.0,252.0 L1112.0,250.6 L1114.0,249.4 L1116.0,248.2 L1118.0,247.1 L1120.0,246.1 L1122.0,245.1 L1124.0,244.3 L1126.0,243.6 L1128.0,242.9 L1130.0,242.3 L1132.0,241.8 L1134.0,241.4 L1136.0,241.1 L1138.0,240.9 L1140.0,240.8 L1142.0,240.7 L1144.0,240.8 L1146.0,240.9 L1148.0,241.1 L1150.0,241.4 L1152.0,241.8 L1154.0,242.3 L1156.0,242.9 L1158.0,243.5 L1160.0,244.3 L1162.0,245.1 L1164.0,246.1 L1166.0,247.1 L1168.0,248.2 L1170.0,249.3 L1172.0,250.6 L1174.0,252.0 L1176.0,253.4 L1178.0,254.9 L1180.0,256.5 L1182.0,258.2 L1184.0,259.9 L1186.0,261.8 L1188.0,263.7 L1190.0,265.7 L1192.0,267.8 L1194.0,269.9 L1196.0,272.1 L1198.0,274.4 L1200.0,276.8 L1202.0,279.2 L1204.0,281.7 L1206.0,284.3 L1208.0,286.9 L1210.0,289.6 L1212.0,292.4 L1214.0,295.2 L1216.0,298.1 L1218.0,301.1 L1220.0,304.1 L1222.0,307.2 L1224.0,310.3 L1226.0,313.5 L1228.0,316.7 L1230.0,320.0 L1232.0,323.4 L1234.0,326.8 L1236.0,330.2 L1238.0,333.7 L1240.0,337.2 L1242.0,340.8 L1244.0,344.4 L1246.0,348.0 L1248.0,351.7 L1250.0,355.4 L1252.0,359.2 L1254.0,363.0 L1256.0,366.8 L1258.0,370.7 L1260.0,374.5 L1262.0,378.5 L1264.0,382.4 L1266.0,386.3 L1268.0,390.3 L1270.0,394.3 L1272.0,398.3 L1274.0,402.4 L1276.0,406.4 L1278.0,410.5 L1280.0,414.5 L1282.0,418.6 L1284.0,422.7 L1286.0,426.8 L1288.0,430.9 L1290.0,435.1 L1292.0,439.2 L1294.0,443.3 L1296.0,447.4 L1298.0,451.5 L1300.0,455.7 L1302.0,459.8 L1304.0,463.9 L1306.0,468.0 L1308.0,472.1 L1310.0,476.2 L1312.0,480.2 L1314.0,484.3 L1316.0,488.3 L1318.0,492.4 L1320.0,496.4 L1322.0,500.4 L1324.0,504.4 L1326.0,508.4 L1328.0,512.3 L1330.0,516.3 L1332.0,520.2 L1334.0,524.1 L1336.0,527.9 L1338.0,531.8 L1340.0,535.6 L1342.0,539.4 L1344.0,543.1 L1346.0,546.9 L1348.0,550.6 L1350.0,554.2 L1352.0,557.9 L1354.0,561.5 L1356.0,565.1 L1358.0,568.6 L1360.0,572.1 L1362.0,575.6 L1364.0,579.1 L1366.0,582.5 L1368.0,585.9 L1370.0,589.2 L1372.0,592.5 L1374.0,595.8 L1376.0,599.1 L1378.0,602.3 L1380.0,605.4 L1382.0,608.5 L1384.0,611.6 L1386.0,614.7 L1388.0,617.7 L1390.0,620.7 L1392.0,623.6 L1394.0,626.5 L1396.0,629.3 L1398.0,632.2 L1400.0,634.9 L1402.0,637.7 L1404.0,640.4 L1406.0,643.0 L1408.0,645.6 L1410.0,648.2 L1412.0,650.8 L1414.0,653.3 L1416.0,655.7 L1418.0,658.1 L1420.0,660.5 L1422.0,662.9 L1424.0,665.2 L1426.0,667.4 L1428.0,669.6 L1430.0,671.8 L1432.0,674.0 L1434.0,676.1 L1436.0,678.2 L1438.0,680.2 L1440.0,682.2 L1442.0,684.1 L1444.0,686.1 L1446.0,687.9 L1448.0,689.8 L1450.0,691.6 L1452.0,693.4 L1454.0,695.1 L1456.0,696.8 L1458.0,698.5 L1460.0,700.1 L1462.0,701.7 L1464.0,703.3 L1466.0,704.8 L1468.0,706.3 L1470.0,707.8 L1472.0,709.3 L1474.0,710.7 L1476.0,712.0 L1478.0,713.4 L1480.0,714.7 L1482.0,716.0 L1484.0,717.2 L1486.0,718.5 L1488.0,719.7 L1490.0,720.8 L1492.0,722.0 L1494.0,723.1 L1496.0,724.2 L1498.0,725.2 L1500.0,726.3 L1502.0,727.3 L1504.0,728.3 L1506.0,729.2 L1508.0,730.2 L1510.0,731.1 L1512.0,732.0 L1514.0,732.8 L1516.0,733.7 L1518.0,734.5 L1520.0,735.3 L1522.0,736.1 L1524.0,736.8 L1526.0,737.5 L1528.0,738.3 L1530.0,739.0 L1532.0,739.6 L1534.0,740.3 L1536.0,740.9 L1538.0,741.5 L1540.0,742.1 L1542.0,742.7 L1544.0,743.3 L1546.0,743.9 L1548.0,744.4 L1550.0,744.9 L1552.0,745.4 L1554.0,745.9 L1556.0,746.4 L1558.0,746.8 L1560.0,747.3 L1562.0,747.7 L1564.0,748.1 L1566.0,748.5 L1568.0,748.9 L1570.0,749.3 L1571.0,749.5" stroke="#ff0000" stroke-width="3"/>
</g>
<line x1="603.0" y1="408.4" x2="538.2" y2="506.4" stroke="#333" stroke-width="1.6"/>
<line x1="688.3" y1="407.7" x2="756.3" y2="555.4" stroke="#333" stroke-width="1.6"/>
<line x1="867.5" y1="283.3" x2="967.6" y2="382.0" stroke="#333" stroke-width="1.6"/>
<line x1="1341.7" y1="272.8" x2="1268.9" y2="387.8" stroke="#333" stroke-width="1.6"/>
<line x1="1423.8" y1="435.0" x2="1282.5" y2="640.0" stroke="#333" stroke-width="1.6"/>
<text x="200.7" y="114.5" font-size="55.0" text-anchor="start" font-family="'Liberation Serif', serif" >(a) H<tspan dy="15.8" font-size="37">2</tspan><tspan dy="-15.8">-TPR</tspan></text>
<text x="740.8" y="248.6" font-size="55.0" text-anchor="start" font-family="'Liberation Serif', serif" >Co<tspan dy="14.3" font-size="37">2.5</tspan><tspan dy="-14.3">/rGO</tspan></text>
<text x="1335.6" y="242.3" font-size="56.0" text-anchor="start" font-family="'Liberation Serif', serif" >CH<tspan dy="14.3" font-size="37">4</tspan></text>
<text x="482.5" y="367.2" font-size="55.0" text-anchor="start" font-family="'Liberation Serif', serif" >CoO<tspan dy="14.3" font-size="37">x</tspan><tspan dy="-14.3"> reducti<tspan dx="2.5">on</tspan></tspan></text>
<text x="1400.6" y="410.0" font-size="56.0" text-anchor="start" font-family="'Liberation Serif', serif" >rGO</text>
<text x="200.8" y="1198.6" font-size="52.0" text-anchor="start" font-family="'Liberation Serif', serif" >(b) CH<tspan dy="14.3" font-size="34">4</tspan></text>
<text x="272.7" y="1295.5" font-size="49.5" text-anchor="middle" font-family="'Liberation Serif', serif" >100</text>
<text x="489.6" y="1295.5" font-size="49.5" text-anchor="middle" font-family="'Liberation Serif', serif" >200</text>
<text x="706.4" y="1295.5" font-size="49.5" text-anchor="middle" font-family="'Liberation Serif', serif" >300</text>
<text x="923.3" y="1295.5" font-size="49.5" text-anchor="middle" font-family="'Liberation Serif', serif" >400</text>
<text x="1140.1" y="1295.5" font-size="49.5" text-anchor="middle" font-family="'Liberation Serif', serif" >500</text>
<text x="1357.0" y="1295.5" font-size="49.5" text-anchor="middle" font-family="'Liberation Serif', serif" >600</text>
<text x="1573.9" y="1295.5" font-size="49.5" text-anchor="middle" font-family="'Liberation Serif', serif" >700</text>
<text x="746.7" y="1389.7" font-size="55.0" text-anchor="start" font-family="'Liberation Serif', serif" >Temperature</text>
<text x="1037.2" y="1389.7" font-size="55.0" text-anchor="start" font-family="'Liberation Serif', serif" >(</text>
<text x="1068.5" y="1366.8" font-size="36.0" text-anchor="start" font-family="'Liberation Serif', serif" >o</text>
<text x="1087.5" y="1389.7" font-size="55.0" text-anchor="start" font-family="'Liberation Serif', serif" >C</text>
<text x="1156.6" y="1389.7" font-size="55.0" text-anchor="end" font-family="'Liberation Serif', serif" >)</text>
<text transform="translate(82.8,611.3) rotate(-90)" font-size="51.7" font-family="'Liberation Serif', serif">H<tspan dy="11" font-size="34">2</tspan><tspan dy="-11"> Consumption (a.u.)</tspan></text>
<text transform="translate(82.7,1147.2) rotate(-90)" font-size="51.5" font-family="'Liberation Serif', serif">CH<tspan dy="11" font-size="34">4</tspan><tspan dy="-11"> signal (a.u.)</tspan></text>
</svg>
</body></html>
